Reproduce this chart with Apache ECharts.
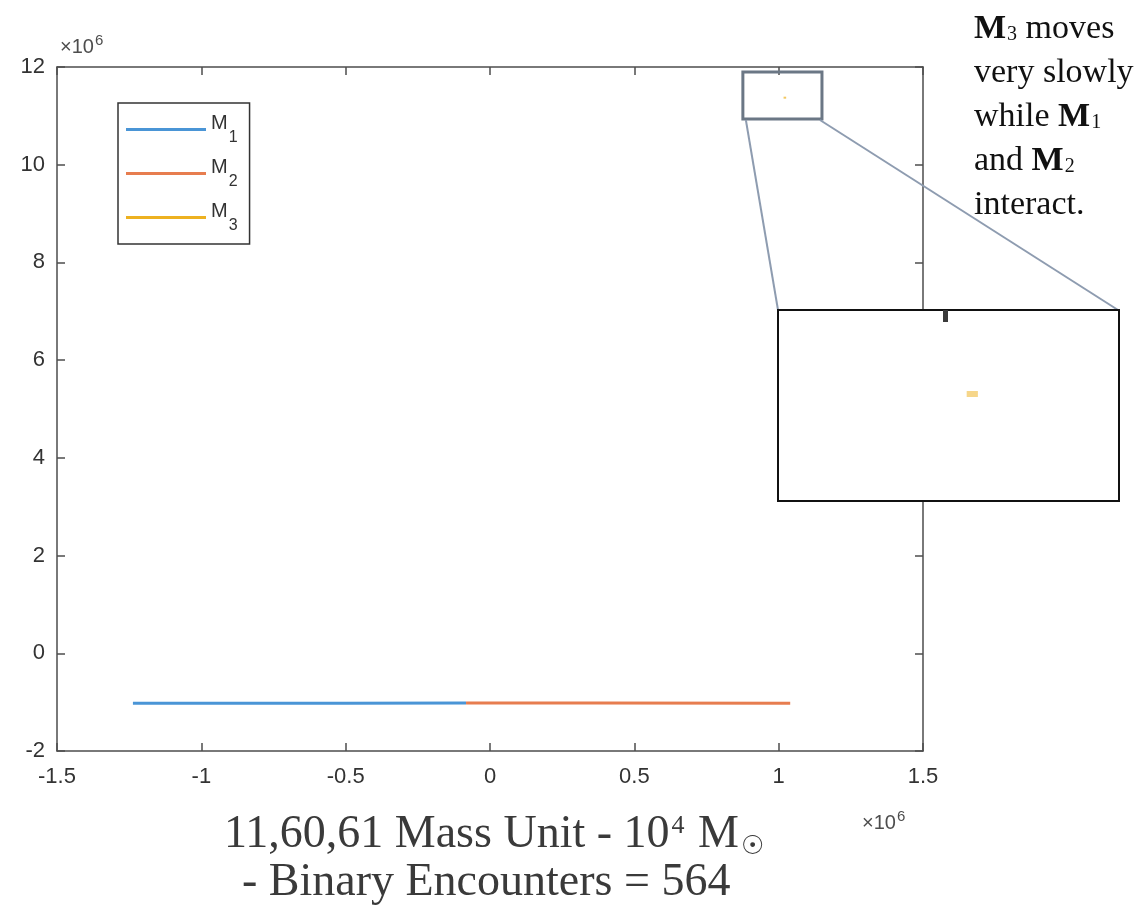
<!DOCTYPE html>
<html><head><meta charset="utf-8">
<script src="https://cdn.jsdelivr.net/npm/echarts@6/dist/echarts.min.js"></script>
<style>html,body{margin:0;padding:0;background:#fff}#c{width:1140px;height:913px}</style>
</head><body><div id="c"></div>
<script>
// All positions in units of 10^6
const xTicks = [-1.5, -1, -0.5, 0, 0.5, 1, 1.5];
const yTicks = [-2, 0, 2, 4, 6, 8, 10, 12];
const seriesNames = ['M1', 'M2', 'M3'];
const m1X = [-1.237, -0.5, -0.083];
const m1Y = [-1.025, -1.025, -1.02];
const m2X = [-0.083, 0.37, 1.04];
const m2Y = [-1.02, -1.02, -1.025];
const m3X = [1.017, 1.026];
const m3Y = [11.372, 11.372];
const zoomBoxX = [0.876, 1.150];
const zoomBoxY = [10.936, 11.898];
const insetX = [0.8655, 1.1393];
const insetY = [10.833, 11.795];
const insetTickX = [1];

const zip = (a, b) => a.map((v, i) => [v, b[i]]);
const axisColor = '#4d4d4d', labelColor = '#333';
const sans = 'Liberation Sans, Arial, sans-serif';
const serif = 'Liberation Serif, Times New Roman, serif';
const c1 = '#4a95d6', c2 = '#e77d4f', c3 = '#EDB120';

const chart = echarts.init(document.getElementById('c'), null, {renderer: 'canvas'});

function mainX(pos, showLabel) {
  return {gridIndex: 0, type: 'value', position: pos, min: xTicks[0], max: xTicks[xTicks.length - 1], interval: 0.5,
    axisLine: {show: true, onZero: false, lineStyle: {color: axisColor, width: 1.5}},
    axisTick: {show: true, inside: true, length: 8, lineStyle: {color: axisColor, width: 1.5}},
    axisLabel: {show: showLabel, color: labelColor, fontFamily: sans, fontSize: 22, margin: 15},
    splitLine: {show: false}};
}
function mainY(pos, showLabel) {
  return {gridIndex: 0, type: 'value', position: pos, min: yTicks[0], max: yTicks[yTicks.length - 1], interval: 2,
    axisLine: {show: true, onZero: false, lineStyle: {color: axisColor, width: 1.5}},
    axisTick: {show: true, inside: true, length: 8, lineStyle: {color: axisColor, width: 1.5}},
    axisLabel: {show: showLabel, color: labelColor, fontFamily: sans, fontSize: 22, margin: 12},
    splitLine: {show: false}};
}

const option = {
  animation: false,
  backgroundColor: '#fff',
  grid: [
    {left: 57, top: 67, width: 866, height: 684, show: false},
    {left: 778, top: 310, width: 341, height: 191, show: true, backgroundColor: '#fff', borderColor: '#111', borderWidth: 2, z: 5}
  ],
  xAxis: [
    mainX('bottom', true),
    mainX('top', false),
    {gridIndex: 1, type: 'value', position: 'top', min: insetX[0], max: insetX[1], z: 6,
      axisLine: {show: false},
      axisTick: {show: true, inside: true, length: 12, customValues: insetTickX, lineStyle: {color: '#3a3a3a', width: 5}},
      axisLabel: {show: false}, splitLine: {show: false}}
  ],
  yAxis: [
    mainY('left', true),
    mainY('right', false),
    {gridIndex: 1, type: 'value', min: insetY[0], max: insetY[1], z: 6,
      axisLine: {show: false}, axisTick: {show: false}, axisLabel: {show: false}, splitLine: {show: false}}
  ],
  legend: {
    data: seriesNames, orient: 'vertical', left: 118, top: 103,
    icon: 'rect', itemWidth: 80, itemHeight: 3, itemGap: 11,
    padding: [10, 12, 10, 8],
    backgroundColor: '#fff', borderColor: '#333', borderWidth: 1.5, borderRadius: 0,
    selectedMode: false,
    formatter: n => '{m|M}{s|' + n.slice(1) + '}',
    textStyle: {color: labelColor, fontFamily: sans,
      rich: {
        m: {fontSize: 20, verticalAlign: 'top', fontFamily: sans, color: labelColor},
        s: {fontSize: 16, padding: [17, 0, 0, 1], fontFamily: sans, color: labelColor}
      }}
  },
  series: [
    {name: 'M1', type: 'line', xAxisIndex: 0, yAxisIndex: 0, data: zip(m1X, m1Y), symbol: 'none',
      lineStyle: {width: 3, color: c1}, itemStyle: {color: c1}, z: 3},
    {name: 'M2', type: 'line', xAxisIndex: 0, yAxisIndex: 0, data: zip(m2X, m2Y), symbol: 'none',
      lineStyle: {width: 3, color: c2}, itemStyle: {color: c2}, z: 3},
    {name: 'M3', type: 'line', xAxisIndex: 0, yAxisIndex: 0, data: zip(m3X, m3Y), symbol: 'none',
      lineStyle: {width: 2, color: c3, opacity: 0.7}, itemStyle: {color: c3}, z: 3,
      markArea: {silent: true,
        itemStyle: {color: 'rgba(0,0,0,0)', borderColor: '#6b7785', borderWidth: 3},
        data: [[{coord: [zoomBoxX[0], zoomBoxY[1]]}, {coord: [zoomBoxX[1], zoomBoxY[0]]}]]}},
    {name: 'M3', type: 'line', xAxisIndex: 2, yAxisIndex: 2, data: zip(m3X, m3Y), symbol: 'none',
      lineStyle: {width: 6, color: '#f6d68a'}, itemStyle: {color: c3}, z: 7}
  ]
};
chart.setOption(option);

const pBL = chart.convertToPixel({gridIndex: 0}, [zoomBoxX[0], zoomBoxY[0]]);
const pBR = chart.convertToPixel({gridIndex: 0}, [zoomBoxX[1], zoomBoxY[0]]);
const qTL = chart.convertToPixel({gridIndex: 1}, [insetX[0], insetY[1]]);
const qTR = chart.convertToPixel({gridIndex: 1}, [insetX[1], insetY[1]]);

const expoRich = {
  a: {fontSize: 20, fontFamily: sans, fill: '#4d4d4d'},
  b: {fontSize: 15, fontFamily: sans, fill: '#4d4d4d', padding: [0, 0, 14, 1]}
};
const noteRich = {
  t: {fontSize: 34, fontFamily: serif, lineHeight: 44, fill: '#111'},
  b: {fontSize: 34, fontFamily: serif, lineHeight: 44, fill: '#111', fontWeight: 'bold'},
  s: {fontSize: 20, fontFamily: serif, fill: '#111', padding: [12, 0, 0, 1]}
};
const titleRich = {
  t: {fontSize: 46, fontFamily: serif, fill: '#3a3a3a'},
  sup: {fontSize: 26, fontFamily: serif, fill: '#3a3a3a', padding: [0, 2, 18, 2]},
  sub: {fontSize: 26, fontFamily: 'DejaVu Sans, sans-serif', fill: '#3a3a3a', padding: [24, 0, 0, 2]}
};

chart.setOption({
  graphic: [
    {type: 'line', z: 4, shape: {x1: pBL[0] + 3, y1: pBL[1] + 1, x2: qTL[0], y2: qTL[1]}, style: {stroke: '#8e9cb0', lineWidth: 2}},
    {type: 'line', z: 4, shape: {x1: pBR[0] - 2, y1: pBR[1] + 1, x2: qTR[0] - 1, y2: qTR[1]}, style: {stroke: '#8e9cb0', lineWidth: 2}},
    {type: 'text', left: 60, top: 33, z: 4, style: {text: '{a|×10}{b|6}', rich: expoRich}},
    {type: 'text', left: 862, top: 809, z: 4, style: {text: '{a|×10}{b|6}', rich: expoRich}},
    {type: 'text', left: 974, top: 12, z: 4, style: {
      text: '{b|M}{s|3}{t| moves}\n{t|very slowly}\n{t|while }{b|M}{s|1}\n{t|and }{b|M}{s|2}\n{t|interact.}',
      rich: noteRich}},
    {type: 'text', left: 224, top: 812, z: 4, style: {text: '{t|11,60,61 Mass Unit - 10}{sup|4}{t| M}{sub|☉}', rich: titleRich}},
    {type: 'text', left: 242, top: 860, z: 4, style: {text: '{t|- Binary Encounters = 564}', rich: titleRich}}
  ]
});
</script></body></html>
